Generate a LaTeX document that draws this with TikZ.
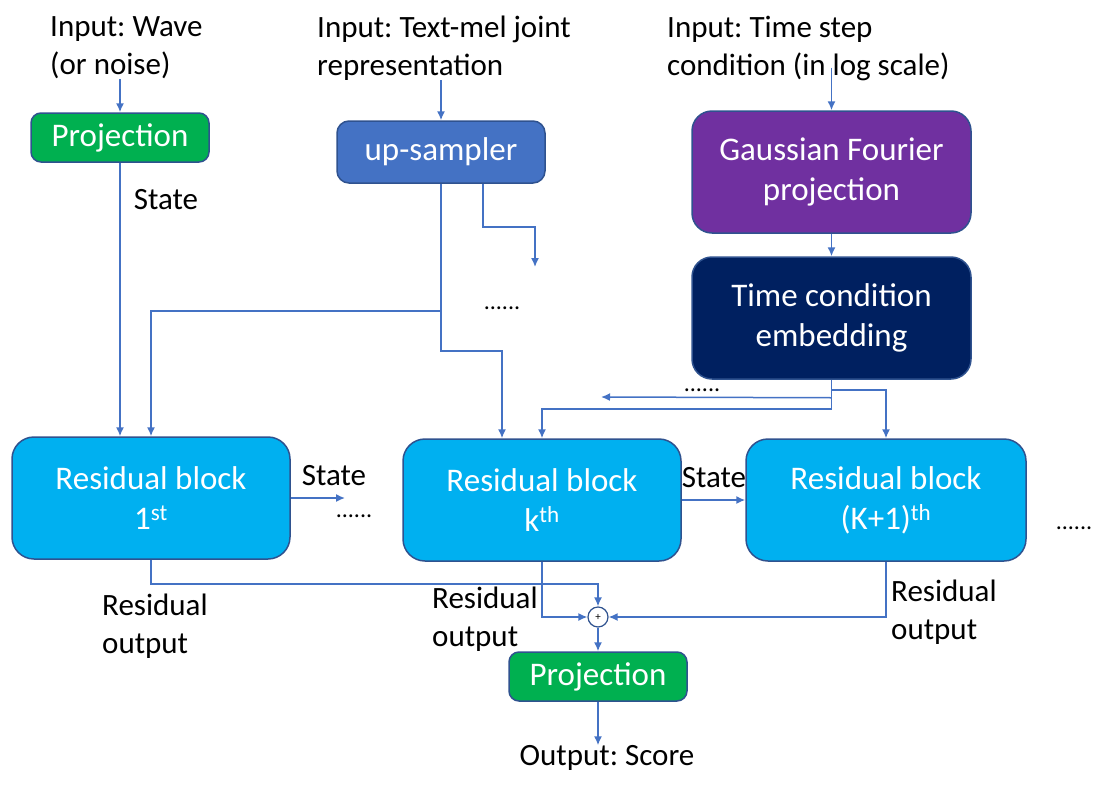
\documentclass[tikz,border=0pt]{standalone}
\usepackage{fontspec}
\setmainfont{Carlito}
\usetikzlibrary{arrows.meta,calc}
\frenchspacing
\definecolor{lineblue}{HTML}{4472C4}
\definecolor{edgeblue}{HTML}{2F528F}
\definecolor{projgreen}{HTML}{00B050}
\definecolor{upblue}{HTML}{4472C4}
\definecolor{gfpurple}{HTML}{7030A0}
\definecolor{tnavy}{HTML}{002060}
\definecolor{resblue}{HTML}{00B0F0}
\tikzset{every node/.style={align=center}, >={Latex[length=9pt,width=8pt]}, font=\fontsize{31}{38}\selectfont}
\tikzset{blk/.style={draw=edgeblue, line width=1.5pt, text=white, inner sep=0pt, font=\fontsize{33}{40}\selectfont},
  wire/.style={draw=lineblue, line width=1.5pt},
  lbl/.style={inner sep=0pt},
  dots/.style={inner sep=0pt, anchor=base, font=\fontsize{24}{24}\selectfont}}

\begin{document}
\begin{tikzpicture}[x=1pt, y=-1pt]
  \useasboundingbox (0,0) rectangle (1108,787);
  % inputs
  \node [lbl,align=left,anchor=west] (in0) at (50,48) {Input: Wave\\(or noise)};
  \node [lbl,align=left,anchor=west] (in1) at (317,48) {Input: Text-mel joint\\representation};
  \node [lbl,align=left,anchor=west] (in2) at (667,48) {Input: Time step\\condition (in log scale)};

  % blocks
  \node [blk,fill=projgreen,minimum width=178,minimum height=49,rounded corners=10] (proj0) at (120,137.5) {Projection};
  \node [blk,fill=upblue,minimum width=208,minimum height=62,rounded corners=12] (ups) at (441,152) {up-sampler};
  \node [blk,fill=gfpurple,minimum width=279,minimum height=122,rounded corners=20] (gfp) at (831.5,172) {Gaussian Fourier\\projection};
  \node [blk,fill=tnavy,minimum width=279,minimum height=122,rounded corners=20] (temb) at (831.5,318) {Time condition\\embedding};
  \node [blk,fill=resblue,minimum width=278,minimum height=122,rounded corners=22] (rb1) at (151,498) {Residual block\\1\textsuperscript{st}};
  \node [blk,fill=resblue,minimum width=278,minimum height=122,rounded corners=22] (rbk) at (542,500) {Residual block\\k\textsuperscript{th}};
  \node [blk,fill=resblue,minimum width=280,minimum height=122,rounded corners=22] (rbk1) at (886,500) {Residual block\\(K+1)\textsuperscript{th}};
  \node [circle,draw=edgeblue,line width=1.2pt,fill=white,minimum size=20,inner sep=0pt,font=\fontsize{11}{11}\selectfont] (sum) at (598,617) {+};
  \node [blk,fill=projgreen,minimum width=178,minimum height=49,rounded corners=10] (proj1) at (598,676.5) {Projection};
  \node [lbl] (out) at (607,758) {Output: Score};

  % labels
  \node [lbl] (st0) at (166,200) {State};
  \node [lbl] (st1) at (334,476) {State};
  \node [lbl] (st2) at (714,478) {State};
  \node [lbl,align=left,anchor=west] (ro1) at (102,626) {Residual\\output};
  \node [lbl,align=left,anchor=west] (rok) at (432,619) {Residual\\output};
  \node [lbl,align=left,anchor=west] (rok1) at (891,612) {Residual\\output};
  \node [dots] (dt0) at (502,309) {......};
  \node [dots] (dt1) at (702,391) {......};
  \node [dots] (dt2) at (354,517) {......};
  \node [dots] (dt3) at (1074,529) {......};

  \coordinate (d0) at (535,267);
  \coordinate (d1) at (601,397);
  \coordinate (d2) at (345,498);

  % connectors
  \draw [wire,->] (proj0.north |- in0.south) -- (proj0.north);
  \draw [wire,->] (ups.north |- in1.south) -- (ups.north);
  \draw [wire,->] ($(gfp.north |- in2.south)+(0,-13)$) -- (gfp.north);
  \draw [wire,->] (gfp.south) -- (temb.north);
  \draw [wire,->] (proj0.south) -- (proj0.south |- rb1.north);
  \draw [wire,->] (ups.south) -- ++(0,127) -| (rb1.north);
  \draw [wire,->] (ups.south) -- ++(0,167) -| ([xshift=-40pt]rbk.north);
  \draw [wire,->] ([xshift=42pt]ups.south) -- ++(0,43) -| (d0);
  \draw [wire,->] (temb.south) -- ++(0,29) -| (rbk.north);
  \draw [wire,->] ([yshift=-10pt]temb.south) -| (rbk1.north);
  \draw [wire,->] ([yshift=-18pt]temb.south) -- (d1);
  \draw [wire,->] (rb1.east) -- (d2);
  \draw [wire,->] (rbk.east) -- (rbk1.west);
  \draw [wire,->] (rb1.south) -- ++(0,24) -| (sum.north);
  \draw [wire,->] (rbk.south) |- (sum.west);
  \draw [wire,->] (rbk1.south) |- (sum.east);
  \draw [wire,->] (sum.south) -- (proj1.north);
  \draw [wire,->] (proj1.south) -- (proj1.south |- out.north);
\end{tikzpicture}
\end{document}
